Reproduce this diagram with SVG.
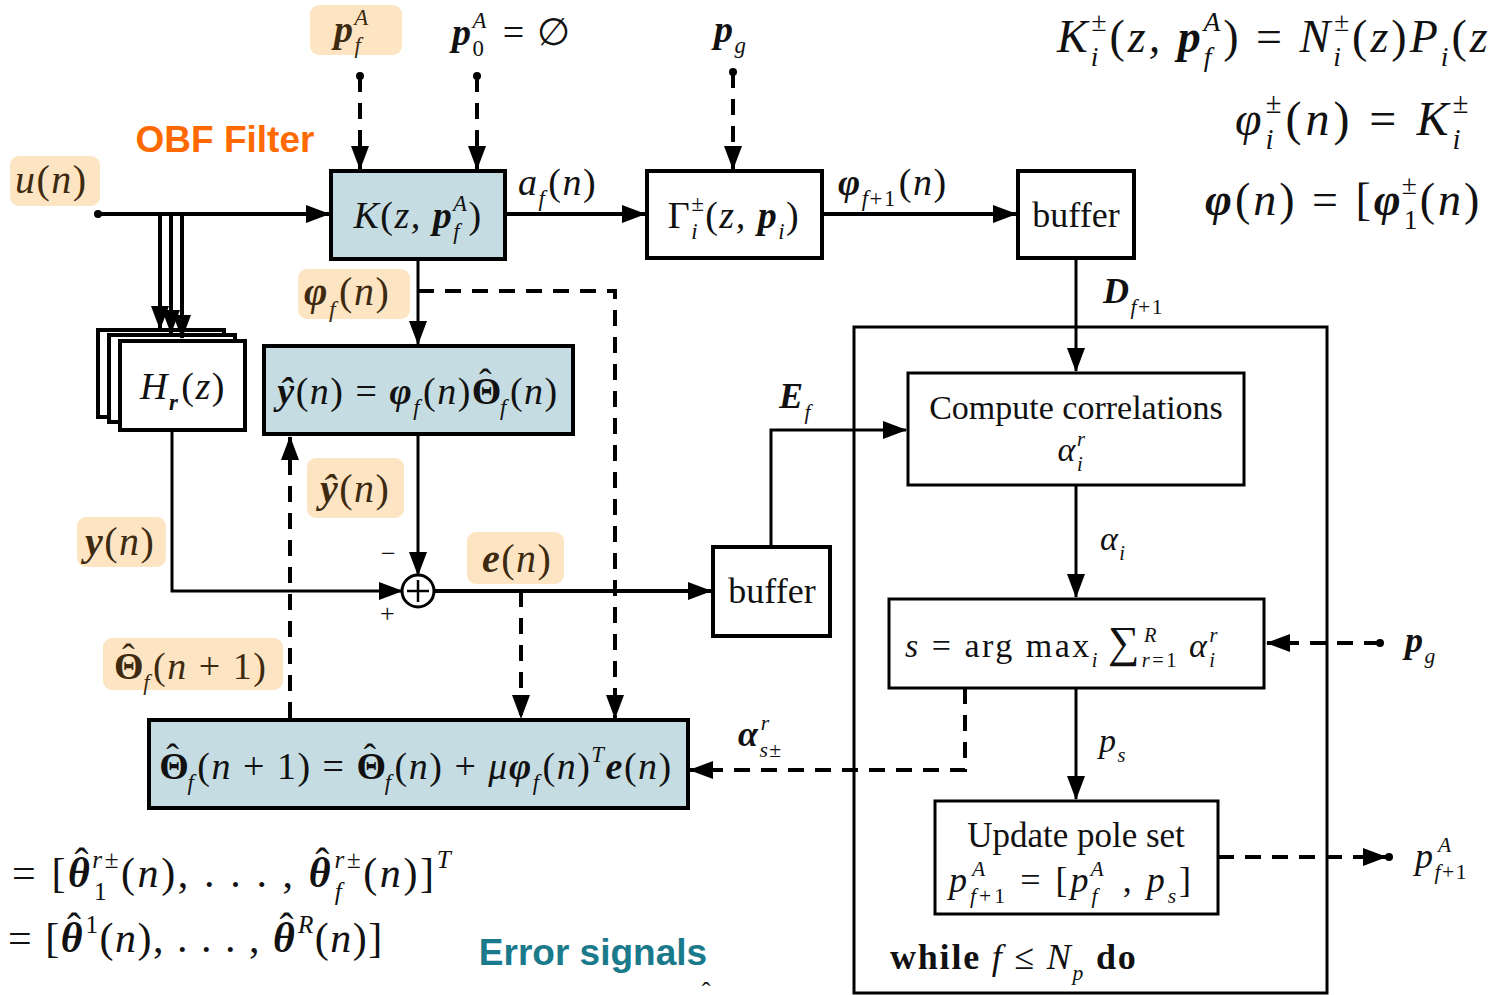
<svg xmlns="http://www.w3.org/2000/svg" width="1490" height="995" viewBox="0 0 1490 995">
<style>
.m{font-family:"Liberation Serif","DejaVu Serif",serif;font-style:italic;fill:#111;letter-spacing:1.5px}
.t{font-family:"Liberation Serif","DejaVu Serif",serif;fill:#111}
.hlt{fill:#3d2a10}
.up{font-style:normal}
.bi{font-weight:bold}
.sup{font-size:60%;baseline-shift:0.75em}
.sub{font-size:60%;baseline-shift:-0.5em}
.hat{baseline-shift:0.24em;font-weight:normal;font-style:normal}
.hl{fill:#fde5c3}
.box{fill:#fff;stroke:#000;stroke-width:4}
.blue{fill:#c4dce2}
.ln{fill:none;stroke:#000;stroke-width:4}
.thin{stroke-width:3}
.dash{stroke-dasharray:16 11}
.arr{marker-end:url(#ah)}
.dot{marker-start:url(#dt)}
.sans{font-family:"Liberation Sans",Arial,sans-serif;font-weight:bold}
</style>
<defs>
<marker id="ah" markerUnits="userSpaceOnUse" markerWidth="24" markerHeight="18" refX="23" refY="9" orient="auto"><path d="M0,0 L24,9 L0,18 z" fill="#000"/></marker>
<marker id="dt" markerUnits="userSpaceOnUse" markerWidth="10" markerHeight="10" refX="5" refY="5" orient="auto"><circle cx="5" cy="5" r="4" fill="#000"/></marker>
</defs>
<rect width="1490" height="995" fill="#fff"/>

<g id="labels">
<rect class="hl" x="10" y="156" width="90" height="50" rx="9"/>
<text class="m hlt" x="15" y="193" font-size="40">u<tspan class="up">(</tspan>n<tspan class="up">)</tspan></text>
<rect class="hl" x="310" y="5" width="92" height="50" rx="9"/>
<text class="m hlt" x="334" y="42" font-size="38"><tspan class="bi">p</tspan><tspan class="sub">f</tspan><tspan class="sup" dx="-8">A</tspan></text>
<text class="m" x="452" y="45" font-size="38"><tspan class="bi">p</tspan><tspan class="sub up">0</tspan><tspan class="sup" dx="-13">A</tspan><tspan class="up" dx="4"> = ∅</tspan></text>
<text class="m" x="714" y="42" font-size="38"><tspan class="bi">p</tspan><tspan class="sub">g</tspan></text>
<text class="sans" x="225" y="152" font-size="37" fill="#ff6a00" text-anchor="middle">OBF Filter</text>
<text class="m" x="518" y="195" font-size="38">a<tspan class="sub">f</tspan><tspan class="up" dx="2">(</tspan>n<tspan class="up">)</tspan></text>
<text class="m" x="838" y="195" font-size="38"><tspan class="bi">φ</tspan><tspan class="sub">f<tspan class="up">+1</tspan></tspan><tspan class="up" dx="2">(</tspan>n<tspan class="up">)</tspan></text>
<text class="m" x="1103" y="303" font-size="36"><tspan class="bi">D</tspan><tspan class="sub">f<tspan class="up">+1</tspan></tspan></text>
<rect class="hl" x="298" y="269" width="112" height="50" rx="9"/>
<text class="m hlt" x="304" y="305" font-size="40"><tspan class="bi">φ</tspan><tspan class="sub">f</tspan><tspan class="up" dx="2">(</tspan>n<tspan class="up">)</tspan></text>
<rect class="hl" x="307" y="458" width="97" height="60" rx="9"/>
<text class="m hlt" x="320" y="502" font-size="40"><tspan class="bi">ŷ</tspan><tspan class="up">(</tspan>n<tspan class="up">)</tspan></text>
<rect class="hl" x="77" y="517" width="89" height="50" rx="9"/>
<text class="m hlt" x="85" y="555" font-size="40"><tspan class="bi">y</tspan><tspan class="up">(</tspan>n<tspan class="up">)</tspan></text>
<rect class="hl" x="467" y="532" width="97" height="52" rx="9"/>
<text class="m hlt" x="482" y="572" font-size="40"><tspan class="bi">e</tspan><tspan class="up">(</tspan>n<tspan class="up">)</tspan></text>
<text class="t" x="381" y="562" font-size="26">−</text>
<text class="t" x="380" y="622" font-size="26">+</text>
<rect class="hl" x="103" y="638" width="180" height="52" rx="9"/>
<text class="m hlt" x="114" y="679" font-size="38"><tspan class="bi up">Θ</tspan><tspan class="hat" dx="-23">ˆ</tspan><tspan class="sub" dx="7">f</tspan><tspan class="up" dx="2">(</tspan>n<tspan class="up"> + 1)</tspan></text>
<text class="m" x="779" y="408" font-size="36"><tspan class="bi">E</tspan><tspan class="sub">f</tspan></text>
<text class="m" x="1100" y="550" font-size="34">α<tspan class="sub">i</tspan></text>
<text class="m" x="738" y="746" font-size="36"><tspan class="bi">α</tspan><tspan class="sub">s<tspan class="up">±</tspan></tspan><tspan class="sup" dx="-22">r</tspan></text>
<text class="m" x="1099" y="752" font-size="34">p<tspan class="sub">s</tspan></text>
<text class="m" x="1405" y="652" font-size="36"><tspan class="bi">p</tspan><tspan class="sub">g</tspan></text>
<text class="m" x="1415" y="868" font-size="36">p<tspan class="sub">f<tspan class="up">+1</tspan></tspan><tspan class="sup" dx="-30">A</tspan></text>
<text class="m" x="1057" y="52" font-size="46" style="letter-spacing:3px">K<tspan class="sub">i</tspan><tspan class="sup" dx="-10">±</tspan><tspan class="up">(</tspan>z, <tspan class="bi">p</tspan><tspan class="sub">f</tspan><tspan class="sup" dx="-11">A</tspan><tspan class="up">) = </tspan>N<tspan class="sub">i</tspan><tspan class="sup" dx="-10">±</tspan><tspan class="up">(</tspan>z<tspan class="up">)</tspan>P<tspan class="sub">i</tspan><tspan class="up">(</tspan>z</text>
<text class="m" x="1235" y="135" font-size="48" style="letter-spacing:4px">φ<tspan class="sub">i</tspan><tspan class="sup" dx="-12">±</tspan><tspan class="up">(</tspan>n<tspan class="up">) = </tspan>K<tspan class="sub">i</tspan><tspan class="sup" dx="-12">±</tspan></text>
<text class="m" x="1205" y="215" font-size="46" style="letter-spacing:3px"><tspan class="bi">φ</tspan><tspan class="up">(</tspan>n<tspan class="up">) = [</tspan><tspan class="bi">φ</tspan><tspan class="sub up">1</tspan><tspan class="sup" dx="-19">±</tspan><tspan class="up">(</tspan>n<tspan class="up">)</tspan></text>
<text class="m" x="12" y="887" font-size="42" style="letter-spacing:2.6px"><tspan class="up">= [</tspan><tspan class="bi">θ</tspan><tspan class="hat" dx="-18">ˆ</tspan><tspan class="sub up" dx="3">1</tspan><tspan class="sup" dx="-17">r±</tspan><tspan class="up">(</tspan>n<tspan class="up">), . . . , </tspan><tspan class="bi">θ</tspan><tspan class="hat" dx="-18">ˆ</tspan><tspan class="sub" dx="3">f</tspan><tspan class="sup" dx="-10">r±</tspan><tspan class="up">(</tspan>n<tspan class="up">)]</tspan><tspan class="sup">T</tspan></text>
<text class="m" x="8" y="952" font-size="42"><tspan class="up">= [</tspan><tspan class="bi">θ</tspan><tspan class="hat" dx="-17">ˆ</tspan><tspan class="sup up" dx="3">1</tspan><tspan class="up">(</tspan>n<tspan class="up">), . . . , </tspan><tspan class="bi">θ</tspan><tspan class="hat" dx="-17">ˆ</tspan><tspan class="sup" dx="3">R</tspan><tspan class="up">(</tspan>n<tspan class="up">)]</tspan></text>
<text class="sans" x="593" y="965" font-size="37" fill="#1a7a8c" text-anchor="middle">Error signals</text>
<text class="t" x="706" y="1000" font-size="26" text-anchor="middle">ˆ</text>
</g>

<g id="node-K">
<rect class="box blue" x="331" y="171" width="174" height="88"/>
<text class="m" x="418" y="228" font-size="38" text-anchor="middle">K<tspan class="up">(</tspan>z, <tspan class="bi">p</tspan><tspan class="sub">f</tspan><tspan class="sup" dx="-8">A</tspan><tspan class="up">)</tspan></text>
</g>
<g id="node-Gamma">
<rect class="box" x="647" y="171" width="175" height="87"/>
<text class="m" x="734" y="228" font-size="38" text-anchor="middle"><tspan class="up">Γ</tspan><tspan class="sub">i</tspan><tspan class="sup" dx="-8">±</tspan><tspan class="up">(</tspan>z, <tspan class="bi">p</tspan><tspan class="sub">i</tspan><tspan class="up">)</tspan></text>
</g>
<g id="node-buffer1">
<rect class="box" x="1018" y="171" width="116" height="87"/>
<text class="t" x="1076" y="227" font-size="36" text-anchor="middle">buffer</text>
</g>
<g id="node-H">
<rect class="box" x="98" y="330" width="126" height="87"/>
<rect class="box" x="109" y="335" width="126" height="87"/>
<rect class="box" x="120" y="341" width="125" height="89"/>
<text class="m" x="183" y="399" font-size="38" text-anchor="middle">H<tspan class="sub bi">r</tspan><tspan class="up" dx="2">(</tspan>z<tspan class="up">)</tspan></text>
</g>
<g id="node-yhat">
<rect class="box blue" x="264" y="346" width="309" height="88"/>
<text class="m" x="418" y="404" font-size="38" text-anchor="middle"><tspan class="bi">ŷ</tspan><tspan class="up">(</tspan>n<tspan class="up">) = </tspan><tspan class="bi">φ</tspan><tspan class="sub">f</tspan><tspan class="up" dx="2">(</tspan>n<tspan class="up">)</tspan><tspan class="bi up">Θ</tspan><tspan class="hat" dx="-24">ˆ</tspan><tspan class="sub" dx="7">f</tspan><tspan class="up" dx="2">(</tspan>n<tspan class="up">)</tspan></text>
</g>
<g id="node-sum">
<circle cx="418" cy="591" r="16" fill="#fff" stroke="#000" stroke-width="3"/>
<path d="M407,591 H429 M418,580 V602" stroke="#000" stroke-width="2.5"/>
</g>
<g id="node-buffer2">
<rect class="box" x="713" y="547" width="117" height="89"/>
<text class="t" x="772" y="603" font-size="36" text-anchor="middle">buffer</text>
</g>
<g id="node-theta">
<rect class="box blue" x="149" y="720" width="539" height="88"/>
<text class="m" x="416" y="779" font-size="38" text-anchor="middle"><tspan class="bi up">Θ</tspan><tspan class="hat" dx="-24">ˆ</tspan><tspan class="sub" dx="7">f</tspan><tspan class="up" dx="2">(</tspan>n<tspan class="up"> + 1) = </tspan><tspan class="bi up">Θ</tspan><tspan class="hat" dx="-24">ˆ</tspan><tspan class="sub" dx="7">f</tspan><tspan class="up" dx="2">(</tspan>n<tspan class="up">) + </tspan>μ<tspan class="bi">φ</tspan><tspan class="sub">f</tspan><tspan class="up" dx="2">(</tspan>n<tspan class="up">)</tspan><tspan class="sup">T</tspan><tspan class="bi">e</tspan><tspan class="up">(</tspan>n<tspan class="up">)</tspan></text>
</g>
<g id="node-while">
<rect x="854" y="327" width="473" height="666" fill="none" stroke="#000" stroke-width="3"/>
<text class="t" x="890" y="969" font-size="36" style="letter-spacing:1.8px"><tspan font-weight="bold">while </tspan><tspan font-style="italic">f</tspan> ≤ <tspan font-style="italic">N</tspan><tspan class="sub" font-style="italic">p</tspan><tspan font-weight="bold"> do</tspan></text>
</g>
<g id="node-compute">
<rect x="908" y="373" width="336" height="112" fill="#fff" stroke="#000" stroke-width="3"/>
<text class="t" x="1076" y="419" font-size="34" text-anchor="middle">Compute correlations</text>
<text class="m" x="1072" y="461" font-size="34" text-anchor="middle">α<tspan class="sub">i</tspan><tspan class="sup" dx="-7">r</tspan></text>
</g>
<g id="node-argmax">
<rect x="889" y="599" width="375" height="89" fill="#fff" stroke="#000" stroke-width="3"/>
<text class="m" x="905" y="657" font-size="34" style="letter-spacing:2.5px">s<tspan class="up"> = arg max</tspan><tspan class="sub">i</tspan><tspan class="up" font-size="44" dx="8">∑</tspan><tspan class="sub">r<tspan class="up">=1</tspan></tspan><tspan class="sup" dx="-35">R</tspan><tspan dx="30">α</tspan><tspan class="sub">i</tspan><tspan class="sup" dx="-8">r</tspan></text>
</g>
<g id="node-update">
<rect x="935" y="801" width="283" height="113" fill="#fff" stroke="#000" stroke-width="3"/>
<text class="t" x="1076" y="847" font-size="35" text-anchor="middle">Update pole set</text>
<text class="m" x="949" y="892" font-size="36" style="letter-spacing:3px">p<tspan class="sub">f<tspan class="up">+1</tspan></tspan><tspan class="sup" dx="-36">A</tspan><tspan class="up" dx="20"> = [</tspan>p<tspan class="sub">f</tspan><tspan class="sup" dx="-10">A</tspan><tspan class="up" dx="4"> , </tspan>p<tspan class="sub">s</tspan><tspan class="up">]</tspan></text>
</g>

<g id="connectors">
<path class="ln arr dot" d="M98,214 H329"/>
<path class="ln arr" d="M160,214 V329"/>
<path class="ln arr" d="M171,214 V333"/>
<path class="ln arr" d="M182,214 V338"/>
<path class="ln dash arr dot" d="M360,76 V169"/>
<path class="ln dash arr dot" d="M477,76 V169"/>
<path class="ln dash arr dot" d="M733,72 V169"/>
<path class="ln arr" d="M505,214 H645"/>
<path class="ln arr" d="M822,214 H1016"/>
<path class="ln thin arr" d="M1076,258 V371"/>
<path class="ln thin arr" d="M418,261 V344"/>
<path class="ln dash arr" d="M418,291 H615 V718"/>
<path class="ln thin arr" d="M418,435 V575"/>
<path class="ln thin arr" d="M172,430 V591 H402"/>
<path class="ln arr" d="M434,591 H711"/>
<path class="ln dash arr" d="M521,591 V718"/>
<path class="ln dash arr" d="M290,718 V437"/>
<path class="ln thin arr" d="M771,546 V430 H906"/>
<path class="ln thin arr" d="M1076,485 V597"/>
<path class="ln thin arr" d="M1076,688 V799"/>
<path class="ln dash arr dot" d="M1380,643 H1267"/>
<path class="ln dash arr" d="M965,688 V770 H690"/>
<path class="ln dash arr" d="M1218,857 H1386"/>
<circle cx="1389" cy="857" r="4" fill="#000"/>
</g>
</svg>
